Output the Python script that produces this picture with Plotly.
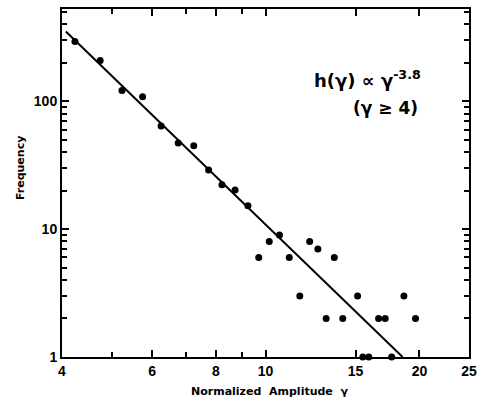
import plotly.graph_objects as go

# Data
amp = [4.24, 4.75, 5.24, 5.75, 6.25, 6.75, 7.24, 7.74, 8.22, 8.72,
       9.24, 9.70, 10.17, 10.65, 11.13, 11.67, 12.2, 12.66, 13.14, 13.63,
       14.16, 15.14, 15.5, 15.92, 16.64, 17.14, 17.65, 18.65, 19.65]
freq = [293, 208, 121, 108, 64, 47, 44.7, 29, 22.2, 20.2,
        15.2, 6, 8, 9, 6, 3, 8, 7, 2, 6,
        2, 3, 1, 1, 2, 2, 1, 3, 2]
fit_x = [4.07, 18.54]
fit_y = [350, 1]

x_major = [4, 6, 8, 10, 15, 20, 25]
x_minor = [5, 7, 9]
y_major = [1, 10, 100]
y_minor = [2, 3, 4, 5, 6, 7, 8, 9, 20, 30, 40, 50, 60, 70, 80, 90, 200, 300, 400, 500]

FONT = "Liberation Sans"
TFONT = "DejaVu Sans"

fig = go.Figure()
fig.add_trace(go.Scatter(x=fit_x, y=fit_y, mode="lines",
                         line=dict(color="black", width=2), cliponaxis=False,
                         showlegend=False))
fig.add_trace(go.Scatter(x=amp, y=freq, mode="markers",
                         marker=dict(color="black", size=7), cliponaxis=False,
                         showlegend=False))

axis_common = dict(showgrid=False, zeroline=False, showline=True, linecolor="black",
                   linewidth=2, mirror="ticks", ticks="inside", tickcolor="black",
                   tickwidth=1.5, ticklen=7,
                   tickfont=dict(family=FONT, size=14, color="black", weight="bold"))

fig.update_xaxes(type="log", range=[0.60206, 1.39794], tickvals=x_major,
                 ticktext=[str(v) for v in x_major],
                 minor=dict(tickvals=x_minor, ticks="inside", ticklen=5, tickcolor="black", tickwidth=1.5),
                 **axis_common)
fig.update_yaxes(type="log", range=[0, 2.72], tickvals=y_major,
                 ticktext=[str(v) for v in y_major],
                 minor=dict(tickvals=y_minor, ticks="inside", ticklen=5, tickcolor="black", tickwidth=1.5),
                 **axis_common)

fig.update_layout(
    width=484, height=403,
    margin=dict(l=62, r=9, t=7, b=46),
    plot_bgcolor="white", paper_bgcolor="white",
    annotations=[
        dict(text="Normalized  Amplitude  γ", xref="paper", yref="paper",
             x=0.51, y=-0.1, xanchor="center", yanchor="middle", showarrow=False,
             font=dict(family=TFONT, size=11, color="black", weight="bold")),
        dict(text="Frequency", xref="paper", yref="paper", textangle=-90,
             x=0, xshift=-42, y=0.543, xanchor="center", yanchor="middle", showarrow=False,
             font=dict(family=TFONT, size=11, color="black", weight="bold")),
        dict(text="h(γ) ∝ γ<sup>-3.8</sup>", x=1.199, y=2.171, xref="x", yref="y",
             xanchor="center", yanchor="middle", showarrow=False,
             font=dict(family=TFONT, size=18, color="black", weight="bold")),
        dict(text="(γ ≥ 4)", x=1.234, y=1.946, xref="x", yref="y",
             xanchor="center", yanchor="middle", showarrow=False,
             font=dict(family=TFONT, size=17, color="black", weight="bold")),
    ],
)

fig.write_html("out.html")
